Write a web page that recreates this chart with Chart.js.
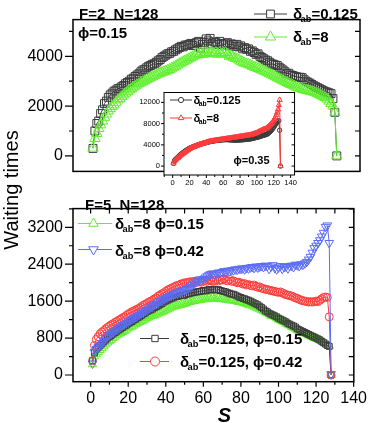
<!DOCTYPE html>
<html>
<head>
<meta charset="utf-8">
<script src="https://cdn.jsdelivr.net/npm/chart.js@4.4.1/dist/chart.umd.min.js"></script>
<style>
  body { margin: 0; background: #fff; }
  #fig { position: relative; width: 374px; height: 423px; overflow: hidden; }
  canvas { position: absolute; }
  #ytitle { position: absolute; left: -90px; top: 180px; width: 200px; height: 20px; line-height: 20px;
    text-align: center; font: 20px "Liberation Sans", Arial, sans-serif; transform: rotate(-90deg); }
</style>
</head>
<body>
<div id="fig">
  <canvas id="top" width="374" height="191" style="left:0;top:0"></canvas>
  <canvas id="bottom" width="374" height="234" style="left:0;top:189px"></canvas>
  <canvas id="inset" width="165" height="104" style="left:135px;top:84px"></canvas>
  <div id="ytitle">Waiting times</div>
</div>
<script>
// site index s = 1..128
const sites = Array.from({ length: 128 }, (_, i) => i + 1);

// tick labels
const sTicks = [0, 20, 40, 60, 80, 100, 120, 140];
const topYTicks = [0, 2000, 4000];
const botYTicks = [0, 800, 1600, 2400, 3200];
const insetYTicks = [0, 4000, 8000, 12000];

// top panel, F=2 N=128 phi=0.15
const topDelta0125 = [
  300, 1000, 1300, 1400, 1700, 1850, 2100, 2200, 2350, 2450, 2520, 2600, 2640, 2700, 2720, 2780,
  2830, 2900, 2950, 3000, 3080, 3120, 3190, 3250, 3300, 3380, 3450, 3480, 3540, 3600, 3630, 3680,
  3700, 3760, 3820, 3870, 3950, 4000, 4050, 4100, 4120, 4180, 4200, 4260, 4300, 4350, 4400, 4380,
  4450, 4450, 4480, 4520, 4430, 4500, 4550, 4600, 4330, 4480, 4560, 4700, 4620, 4720, 4500, 4580,
  4550, 4480, 4600, 4520, 4460, 4500, 4550, 4420, 4500, 4470, 4400, 4480, 4380, 4420, 4300, 4350,
  4280, 4300, 4200, 4220, 4150, 4080, 4100, 4000, 3950, 3900, 3850, 3820, 3760, 3700, 3680, 3650,
  3630, 3560, 3500, 3450, 3380, 3300, 3320, 3250, 3230, 3200, 3180, 3150, 3160, 3140, 3060, 3000,
  2960, 2920, 2870, 2820, 2780, 2740, 2700, 2660, 2620, 2580, 2560, 2530, 2500, 2300, 1750, 0
];
const topDelta8 = [
  310, 700, 900, 1100, 1250, 1400, 1550, 1680, 1800, 1900, 1980, 2050, 2150, 2250, 2300, 2380,
  2450, 2520, 2580, 2650, 2700, 2760, 2800, 2850, 2900, 2940, 2980, 3020, 3060, 3100, 3140, 3180,
  3220, 3250, 3290, 3320, 3350, 3380, 3410, 3440, 3470, 3520, 3560, 3600, 3650, 3700, 3740, 3780,
  3820, 3860, 3900, 3950, 3980, 4020, 4100, 4060, 4120, 4080, 4140, 4150, 4100, 4130, 4160, 4120,
  4150, 4080, 4150, 4100, 4130, 4150, 4080, 4000, 4030, 3960, 3920, 3900, 3850, 3800, 3760, 3720,
  3700, 3680, 3640, 3600, 3570, 3550, 3510, 3480, 3440, 3410, 3380, 3340, 3300, 3260, 3220, 3180,
  3140, 3100, 3060, 3020, 2980, 2950, 2910, 2870, 2840, 2800, 2760, 2730, 2700, 2680, 2660, 2640,
  2620, 2600, 2580, 2560, 2530, 2500, 2460, 2420, 2380, 2340, 2280, 2200, 2100, 2000, 1750, 0
];

// inset, phi=0.35
const insetDelta0125 = [
  500, 950, 1200, 1350, 1500, 1650, 1800, 1950, 2100, 2250, 2380, 2500, 2620, 2740, 2850, 2950,
  3050, 3150, 3250, 3350, 3420, 3500, 3560, 3620, 3680, 3740, 3800, 3860, 3920, 3980, 4030, 4080,
  4130, 4180, 4230, 4280, 4320, 4360, 4400, 4440, 4480, 4520, 4560, 4600, 4640, 4680, 4700, 4720,
  4750, 4780, 4800, 4820, 4850, 4870, 4890, 4900, 4920, 4940, 4950, 4960, 4970, 4980, 4990, 5000,
  4990, 4980, 4960, 4950, 4940, 4930, 4920, 4910, 4900, 4900, 4890, 4900, 4900, 4910, 4920, 4930,
  4940, 4950, 4960, 4980, 5000, 5010, 5020, 5040, 5060, 5080, 5100, 5120, 5150, 5180, 5220, 5260,
  5300, 5340, 5380, 5400, 5450, 5500, 5550, 5600, 5650, 5700, 5750, 5800, 5850, 5900, 5950, 6000,
  6100, 6250, 6400, 6550, 6700, 6900, 7100, 7350, 7600, 7850, 8100, 8300, 8450, 8560, 6760, 0
];
const insetDelta8 = [
  500, 900, 1100, 1250, 1400, 1520, 1630, 1780, 1950, 2100, 2220, 2330, 2450, 2560, 2680, 2800,
  2900, 3000, 3120, 3250, 3320, 3400, 3480, 3540, 3600, 3660, 3720, 3800, 3860, 3920, 3990, 4050,
  4100, 4150, 4200, 4250, 4300, 4350, 4400, 4440, 4500, 4560, 4600, 4640, 4680, 4700, 4730, 4760,
  4780, 4800, 4830, 4850, 4880, 4900, 4930, 4950, 4980, 5000, 5020, 5050, 5080, 5100, 5120, 5150,
  5170, 5200, 5220, 5240, 5260, 5290, 5320, 5340, 5370, 5400, 5420, 5450, 5480, 5500, 5520, 5550,
  5580, 5600, 5620, 5650, 5680, 5700, 5720, 5750, 5780, 5800, 5830, 5850, 5900, 5950, 6000, 6050,
  6100, 6150, 6200, 6260, 6350, 6450, 6520, 6600, 6680, 6750, 6830, 6900, 6950, 7000, 7050, 7200,
  7350, 7500, 7650, 7800, 7950, 8150, 8400, 8600, 8850, 9200, 9600, 10100, 10660, 11500, 12470, 0
];

// bottom panel, F=5 N=128
const botD8Phi015 = [
  230, 400, 450, 500, 540, 580, 620, 660, 700, 730, 760, 800, 830, 860, 880, 910,
  930, 950, 980, 1010, 1030, 1050, 1070, 1100, 1120, 1140, 1160, 1180, 1200, 1230, 1250, 1270,
  1280, 1290, 1310, 1330, 1350, 1360, 1380, 1400, 1420, 1440, 1460, 1480, 1490, 1500, 1510, 1520,
  1530, 1540, 1560, 1590, 1580, 1600, 1600, 1610, 1620, 1620, 1630, 1640, 1650, 1640, 1660, 1650,
  1680, 1660, 1650, 1660, 1640, 1650, 1640, 1630, 1620, 1620, 1610, 1620, 1600, 1590, 1580, 1580,
  1560, 1550, 1540, 1520, 1520, 1500, 1480, 1460, 1440, 1420, 1400, 1380, 1360, 1340, 1310, 1280,
  1280, 1260, 1230, 1200, 1180, 1160, 1140, 1110, 1090, 1070, 1040, 1020, 1000, 970, 950, 930,
  910, 900, 880, 860, 840, 820, 800, 790, 770, 750, 730, 700, 680, 660, 630, 0
];
const botD8Phi042 = [
  250, 500, 560, 600, 640, 690, 740, 800, 840, 870, 900, 930, 960, 990, 1020, 1050,
  1080, 1100, 1130, 1160, 1180, 1210, 1240, 1260, 1290, 1310, 1340, 1360, 1390, 1410, 1440, 1470,
  1490, 1520, 1540, 1570, 1600, 1620, 1650, 1670, 1690, 1710, 1730, 1750, 1760, 1780, 1800, 1810,
  1830, 1840, 1860, 1880, 1910, 1940, 1980, 2010, 2040, 2070, 2050, 2080, 2110, 2140, 2170, 2190,
  2200, 2180, 2200, 2220, 2210, 2230, 2250, 2240, 2260, 2250, 2270, 2270, 2290, 2280, 2300, 2300,
  2310, 2290, 2320, 2310, 2330, 2340, 2320, 2350, 2330, 2350, 2360, 2340, 2370, 2360, 2300, 2350,
  2380, 2320, 2290, 2330, 2360, 2300, 2340, 2350, 2310, 2360, 2370, 2340, 2390, 2380, 2360, 2400,
  2390, 2420, 2450, 2500, 2560, 2650, 2750, 2800, 2860, 2920, 3000, 3080, 3210, 3240, 2860, 20
];
const botD0125Phi015 = [
  310, 480, 560, 600, 640, 680, 720, 760, 800, 830, 860, 890, 920, 950, 980, 1000,
  1030, 1060, 1080, 1110, 1140, 1160, 1190, 1210, 1240, 1260, 1290, 1320, 1340, 1370, 1390, 1410,
  1430, 1460, 1480, 1500, 1530, 1550, 1580, 1600, 1620, 1640, 1660, 1670, 1690, 1700, 1710, 1720,
  1720, 1730, 1750, 1760, 1770, 1780, 1790, 1800, 1800, 1810, 1820, 1830, 1820, 1840, 1850, 1840,
  1850, 1860, 1840, 1850, 1830, 1820, 1810, 1800, 1780, 1770, 1750, 1750, 1730, 1710, 1690, 1680,
  1660, 1650, 1630, 1620, 1600, 1580, 1560, 1540, 1520, 1490, 1460, 1430, 1390, 1370, 1340, 1320,
  1300, 1280, 1260, 1230, 1210, 1190, 1170, 1150, 1120, 1100, 1080, 1060, 1040, 1000, 980, 960,
  940, 920, 900, 880, 860, 840, 820, 800, 780, 760, 730, 700, 670, 640, 620, 0
];
const botD0125Phi042 = [
  310, 640, 770, 830, 890, 930, 960, 1000, 1030, 1060, 1090, 1110, 1140, 1160, 1190, 1210,
  1240, 1260, 1290, 1320, 1340, 1370, 1390, 1410, 1430, 1450, 1480, 1510, 1530, 1550, 1580, 1600,
  1620, 1650, 1670, 1710, 1730, 1760, 1780, 1810, 1840, 1860, 1880, 1900, 1920, 1940, 1950, 1970,
  1980, 2000, 1990, 2010, 2020, 2000, 2030, 2000, 2040, 2020, 2010, 2040, 2050, 2030, 2060, 2040,
  2030, 2050, 2070, 2040, 2060, 2060, 2080, 2050, 2040, 2070, 2030, 2040, 2020, 2000, 2010, 1990,
  1970, 1980, 1950, 1960, 1940, 1930, 1950, 1920, 1900, 1910, 1880, 1870, 1860, 1850, 1840, 1830,
  1820, 1810, 1800, 1790, 1800, 1780, 1760, 1740, 1730, 1720, 1710, 1690, 1670, 1660, 1640, 1620,
  1610, 1600, 1590, 1580, 1590, 1580, 1590, 1600, 1590, 1620, 1650, 1680, 1690, 1680, 1260, 0
];

const FONT = '"Liberation Sans", Arial, sans-serif';
const BLACK = "#3a3a3a";
const GREEN = "#5ff02c";
const RED = "#ff3b3b";
const BLUE = "#5b6cf5";

Chart.defaults.font.family = FONT;
Chart.defaults.color = "#000";

function series(label, values, color, style, radius, rotation, order) {
  return {
    label: label,
    order: order,
    data: values.map((v, i) => ({ x: sites[i], y: v })),
    borderColor: color,
    borderWidth: 1,
    pointStyle: style,
    pointRadius: radius,
    pointRotation: rotation,
    pointBorderColor: color,
    pointBackgroundColor: "rgba(255,255,255,0)",
    pointBorderWidth: 1,
    tension: 0,
    fill: false,
    clip: false,
  };
}

function axis(min, max, tickValues, size, pad, show, fitSize, isX) {
  return {
    type: "linear",
    min: min,
    max: max,
    display: show,
    grid: { display: false, drawTicks: false },
    border: { display: false },
    ticks: { autoSkip: false, maxRotation: 0, color: "#000", padding: pad, font: { size: size },
             callback: (v) => String(v) },
    afterBuildTicks: (s) => { s.ticks = tickValues.map((v) => ({ value: v })); },
    afterFit: isX ? (s) => { s.height = fitSize; } : (s) => { s.width = fitSize; },
  };
}

// box around the plot area plus major/minor tick marks, placed with the scales
function frameTicks(cfg) {
  return {
    id: "frameTicks",
    beforeDraw(chart) {
      if (!cfg.fill) return;
      const a = chart.chartArea, ctx = chart.ctx;
      ctx.save();
      ctx.fillStyle = "#fff";
      ctx.fillRect(a.left, a.top, a.right - a.left, a.bottom - a.top);
      ctx.restore();
    },
    afterDraw(chart) {
      const ctx = chart.ctx, a = chart.chartArea;
      const x = chart.scales.x, y = chart.scales.y;
      ctx.save();
      ctx.strokeStyle = "#000";
      ctx.lineWidth = cfg.lw;
      ctx.strokeRect(a.left, a.top, a.right - a.left, a.bottom - a.top);
      ctx.lineWidth = cfg.tw;
      ctx.beginPath();
      for (let k = Math.ceil(y.min / cfg.yMinor); k * cfg.yMinor <= y.max; k++) {
        const v = k * cfg.yMinor, p = y.getPixelForValue(v);
        const len = v % cfg.yMajor === 0 ? cfg.yLen[0] : cfg.yLen[1];
        ctx.moveTo(a.left, p); ctx.lineTo(a.left - len, p);
        ctx.moveTo(a.right, p); ctx.lineTo(a.right - cfg.inner, p);
      }
      for (let k = Math.ceil(x.min / cfg.xMinor); k * cfg.xMinor <= x.max; k++) {
        const v = k * cfg.xMinor, p = x.getPixelForValue(v);
        const len = v % cfg.xMajor === 0 ? cfg.xLen[0] : cfg.xLen[1];
        if (cfg.bottom) { ctx.moveTo(p, a.bottom); ctx.lineTo(p, a.bottom + len); }
        if (cfg.top) { ctx.moveTo(p, a.top); ctx.lineTo(p, a.top + cfg.inner); }
      }
      ctx.stroke();
      ctx.restore();
    },
  };
}

// labels and legend keys (delta with "ab" subscript)
function notes(items) {
  return {
    id: "notes",
    afterDraw(chart) {
      const ctx = chart.ctx;
      items.forEach((n) => {
        ctx.save();
        if (n.key) {
          ctx.strokeStyle = n.color;
          ctx.lineWidth = 1;
          ctx.beginPath();
          ctx.moveTo(n.x1, n.y); ctx.lineTo(n.x2, n.y);
          ctx.stroke();
          ctx.fillStyle = "#fff";
          Chart.helpers.drawPoint(ctx, { pointStyle: n.key, radius: n.r, rotation: n.rot || 0, borderWidth: 1 }, n.xm, n.y);
        } else {
          ctx.fillStyle = "#000";
          ctx.textBaseline = "alphabetic";
          ctx.textAlign = n.align || "left";
          let x = n.x;
          n.parts.forEach((p) => {
            const sub = p[1] === "sub";
            const size = sub ? n.size * 0.62 : n.size;
            ctx.font = (n.style || "bold") + " " + size + "px " + FONT;
            ctx.fillText(p[0], x, n.y + (sub ? n.size * 0.2 : 0));
            x += ctx.measureText(p[0]).width + (p[0] === "δ" ? -1.5 : 0);
          });
        }
        ctx.restore();
      });
    },
  };
}

function baseOptions(xs, ys, pad) {
  return {
    responsive: false,
    animation: false,
    devicePixelRatio: 1,
    layout: { padding: pad },
    plugins: { legend: { display: false }, tooltip: { enabled: false } },
    scales: { x: xs, y: ys },
  };
}

// top panel
new Chart(document.getElementById("top"), {
  type: "line",
  data: {
    datasets: [
      series("δab=0.125", topDelta0125, BLACK, "rect", 5.6, 0, 2),
      series("δab=8", topDelta8, GREEN, "triangle", 6, 0, 1),
    ],
  },
  options: baseOptions(
    axis(-9.4, 140.1, sTicks, 16, 7, false, 0, true),
    axis(-623, 5474, topYTicks, 16, 10, true, 73, false),
    { top: 1, right: 14, bottom: 1, left: 0 }
  ),
  plugins: [
    frameTicks({ lw: 1.5, tw: 1.2, yMinor: 1000, yMajor: 2000, yLen: [8, 4], inner: 5,
                 xMinor: 10, xMajor: 20, xLen: [0, 0], bottom: false, top: false }),
    notes([
      { parts: [["F=2  N=128"]], x: 79, y: 18.5, size: 15 },
      { parts: [["ϕ=0.15"]], x: 78, y: 37.5, size: 15 },
      { key: "rect", color: BLACK, x1: 254, x2: 287, xm: 270.5, y: 14, r: 5.5 },
      { parts: [["δ"], ["ab", "sub"], ["=0.125"]], x: 293, y: 19, size: 15 },
      { key: "triangle", color: GREEN, x1: 254, x2: 287, xm: 270.5, y: 37, r: 6 },
      { parts: [["δ"], ["ab", "sub"], ["=8"]], x: 293, y: 42, size: 15 },
    ]),
  ],
});

// bottom panel
new Chart(document.getElementById("bottom"), {
  type: "line",
  data: {
    datasets: [
      series("δab=8 ϕ=0.15", botD8Phi015, GREEN, "triangle", 4.8, 0, 4),
      series("δab=8 ϕ=0.42", botD8Phi042, BLUE, "triangle", 5, 180, 1),
      series("δab=0.125, ϕ=0.15", botD0125Phi015, BLACK, "rect", 4.2, 0, 3),
      series("δab=0.125, ϕ=0.42", botD0125Phi042, RED, "circle", 4, 0, 2),
    ],
  },
  options: baseOptions(
    axis(-9.4, 140.1, sTicks, 16, 7, true, 41.3, true),
    axis(-145, 3605, botYTicks, 16, 10, true, 73, false),
    { top: 1, right: 14, bottom: 0, left: 0 }
  ),
  plugins: [
    frameTicks({ lw: 1.5, tw: 1.2, yMinor: 400, yMajor: 800, yLen: [8, 4], inner: 5,
                 xMinor: 10, xMajor: 20, xLen: [5, 3], bottom: true, top: true }),
    notes([
      { parts: [["F=5  N=128"]], x: 85, y: 21, size: 15 },
      { key: "triangle", color: GREEN, x1: 78, x2: 112, xm: 93.5, y: 34.5, r: 5.5 },
      { parts: [["δ"], ["ab", "sub"], ["=8 ϕ=0.15"]], x: 115, y: 39.5, size: 15 },
      { key: "triangle", rot: 180, color: BLUE, x1: 78, x2: 112, xm: 93.5, y: 60.5, r: 5.5 },
      { parts: [["δ"], ["ab", "sub"], ["=8 ϕ=0.42"]], x: 115, y: 66.5, size: 15 },
      { key: "rect", color: BLACK, x1: 140, x2: 169, xm: 155, y: 149.5, r: 4.5 },
      { parts: [["δ"], ["ab", "sub"], ["=0.125, ϕ=0.15"]], x: 180, y: 154.5, size: 15 },
      { key: "circle", color: RED, x1: 140, x2: 169, xm: 155, y: 172.5, r: 4.5 },
      { parts: [["δ"], ["ab", "sub"], ["=0.125, ϕ=0.42"]], x: 180, y: 177.5, size: 15 },
      { parts: [["S"]], x: 224.5, y: 232.5, size: 20, style: "italic bold", align: "center" },
    ]),
  ],
});

// inset, phi=0.35
new Chart(document.getElementById("inset"), {
  type: "line",
  data: {
    datasets: [
      series("δab=0.125", insetDelta0125, BLACK, "circle", 2.2, 0, 2),
      series("δab=8", insetDelta8, RED, "triangle", 3, 0, 1),
    ],
  },
  options: baseOptions(
    axis(-10.3, 144.7, sTicks, 7.5, 3, true, 13, true),
    axis(-1680, 13862, insetYTicks, 7.5, 4, true, 29, false),
    { top: 5, right: 5, bottom: 0, left: 0 }
  ),
  plugins: [
    frameTicks({ fill: true, lw: 1, tw: 1, yMinor: 2000, yMajor: 4000, yLen: [3, 2], inner: 3,
                 xMinor: 10, xMajor: 20, xLen: [3, 2], bottom: true, top: false }),
    notes([
      { key: "circle", color: BLACK, x1: 35, x2: 57, xm: 46, y: 16, r: 2.6 },
      { parts: [["δ"], ["ab", "sub"], ["=0.125"]], x: 58.5, y: 19.5, size: 11 },
      { key: "triangle", color: RED, x1: 35, x2: 57, xm: 46, y: 34, r: 3.2 },
      { parts: [["δ"], ["ab", "sub"], ["=8"]], x: 58.5, y: 37.5, size: 11 },
      { parts: [["ϕ=0.35"]], x: 98.5, y: 79.5, size: 11 },
    ]),
  ],
});
</script>
</body>
</html>
